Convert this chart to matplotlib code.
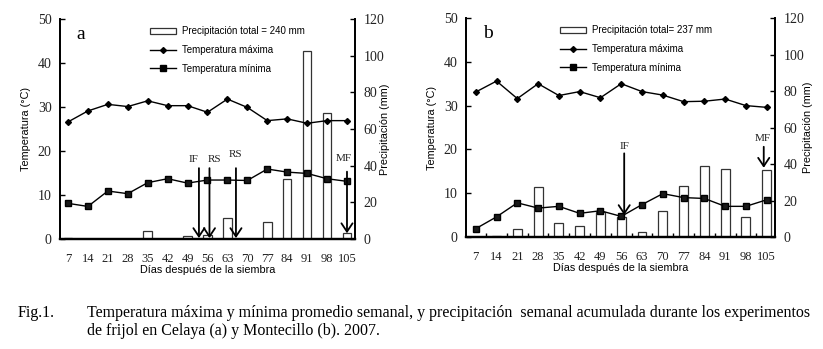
import numpy as np
import matplotlib
matplotlib.use("Agg")
import matplotlib.pyplot as plt
from matplotlib.lines import Line2D
from matplotlib.patches import Patch

# dias despues de la siembra
dias = [7, 14, 21, 28, 35, 42, 49, 56, 63, 70, 77, 84, 91, 98, 105]

# Celaya (a)
tmax_a = [26.6, 29.1, 30.6, 30.1, 31.4, 30.3, 30.3, 28.8, 31.8, 29.9, 26.9, 27.3, 26.3, 26.9, 26.9]
tmin_a = [8.1, 7.4, 10.9, 10.3, 12.8, 13.7, 12.7, 13.4, 13.4, 13.3, 15.9, 15.2, 14.9, 13.7, 13.1]
prec_a = [0.7, 0, 0, 0, 4.4, 0, 1.8, 2.0, 11.5, 0, 9.3, 32.6, 102.4, 68.7, 3.1]

# Montecillo (b)
tmax_b = [33.1, 35.6, 31.6, 35.0, 32.3, 33.2, 31.8, 35.0, 33.2, 32.4, 30.9, 31.0, 31.5, 30.0, 29.6]
tmin_b = [1.9, 4.6, 7.8, 6.6, 7.0, 5.4, 6.0, 4.7, 7.4, 9.9, 9.0, 8.8, 7.0, 7.0, 8.5]
prec_b = [0, 0.5, 4.4, 27.5, 7.7, 5.8, 13.7, 11.2, 2.6, 14.3, 28.2, 39.0, 37.5, 11.2, 36.6]

# etapas fenologicas: etiqueta, dia, posicion de la etiqueta, inicio y punta de la flecha
etapas_a = ["IF", "RS", "RS", "MF"]
dia_etapa_a = [53.0, 56.7, 66.0, 105.0]
lab_x_a = [51.0, 58.5, 66.0, 103.8]
lab_y_a = [18.0, 18.0, 19.3, 18.2]
top_a = [16.1, 16.1, 16.1, 15.3]
tip_a = [0.2, 0.2, 0.2, 1.3]

etapas_b = ["IF", "MF"]
dia_etapa_b = [57.0, 104.0]
lab_x_b = [57.0, 103.6]
lab_y_b = [20.6, 22.6]
top_b = [19.1, 20.6]
tip_b = [5.0, 15.8]

SERIF = "Liberation Serif"
SANS = "Liberation Sans"


def panel(fig, rect, letra, tmax, tmin, prec, total, etapas, dia_et, lab_x, lab_y, top, tip,
          xlo, xticks_menores, ylab_x, y2lab_x):
    ax = fig.add_axes(rect)
    ax2 = ax.twinx()
    ax.set_zorder(ax2.get_zorder() + 1)
    ax.patch.set_visible(False)

    x = np.arange(len(dias))
    ax2.bar(x, prec, width=0.43, color="white", edgecolor="#333333", linewidth=0.9)
    ax.plot(x, tmax, color="black", lw=1.0, marker="D", ms=3.0, mfc="black", mec="black")
    ax.plot(x, tmin, color="black", lw=1.0, marker="s", ms=5, mfc="#1a1a1a", mec="black")

    for et, d, lx, ly, t0, t1 in zip(etapas, dia_et, lab_x, lab_y, top, tip):
        xi = (d - dias[0]) / 7.0
        ax.annotate("", xy=(xi, t1), xytext=(xi, t0),
                    arrowprops=dict(arrowstyle="->, head_length=0.6, head_width=0.4",
                                    lw=1.3, color="black", mutation_scale=10,
                                    shrinkA=0, shrinkB=0))
        ax.text((lx - dias[0]) / 7.0, ly, et, fontsize=8, family=SERIF,
                ha="center", va="center", color="#222222")

    ax.set_xlim(xlo, 14.4)
    ax.set_ylim(0, 50)
    ax2.set_ylim(0, 120)
    ax.set_yticks(range(0, 51, 10))
    ax2.set_yticks(range(0, 121, 20))
    ax.set_xticks(x)
    ax.set_xticklabels([str(d) for d in dias], family=SERIF, fontsize=9)
    ax.tick_params(axis="x", length=0, pad=10, labelcolor="#222222")
    if xticks_menores:
        ax.set_xticks(x[:-1] + 0.5, minor=True)
        ax.tick_params(axis="x", which="minor", direction="in", length=3, width=1)
    for a in (ax, ax2):
        a.tick_params(axis="y", direction="in", length=3.5, width=1, labelsize=10, pad=6)
        for lab in a.get_yticklabels():
            lab.set_family(SERIF)
            lab.set_color("#222222")
        a.spines["top"].set_visible(False)
        for s in ("left", "right"):
            a.spines[s].set_linewidth(1.3)
        a.spines["bottom"].set_linewidth(1.6)
    ax2.tick_params(axis="x", which="both", length=0)

    ax.set_xlabel("Días después de la siembra", family=SANS, fontsize=7.8, labelpad=0)
    ax.set_ylabel("Temperatura (°C)", family=SANS, fontsize=7.8)
    ax.yaxis.set_label_coords(ylab_x, 0.5)
    ax2.set_ylabel("Precipitación (mm)", family=SANS, fontsize=7.8, rotation=90)
    ax2.yaxis.set_label_coords(y2lab_x, 0.5)

    ax.text(0.07, 0.93, letra, transform=ax.transAxes, family=SERIF, fontsize=14,
            ha="center", va="center")

    handles = [Patch(facecolor="white", edgecolor="#333333", linewidth=0.9),
               Line2D([], [], color="black", lw=1.0, marker="D", ms=3.0),
               Line2D([], [], color="black", lw=1.0, marker="s", ms=5)]
    labels = ["Precipitación total" + total, "Temperatura máxima", "Temperatura mínima"]
    ax.legend(handles, labels, loc="upper left", bbox_to_anchor=(0.29, 0.99),
              frameon=False, prop={"family": SANS, "size": 7}, handlelength=2.6,
              handleheight=0.55, labelspacing=0.9, handletextpad=0.6, borderpad=0,
              numpoints=1)
    return ax


fig = plt.figure(figsize=(8.23, 3.49), dpi=100)

panel(fig, [0.0729, 0.3152, 0.3584, 0.6304], "a", tmax_a, tmin_a, prec_a, " = 240 mm",
      etapas_a, dia_etapa_a, lab_x_a, lab_y_a, top_a, tip_a,
      -0.4, False, -0.10, 1.085)
panel(fig, [0.5662, 0.3209, 0.3755, 0.6275], "b", tmax_b, tmin_b, prec_b, "= 237 mm",
      etapas_b, dia_etapa_b, lab_x_b, lab_y_b, top_b, tip_b,
      -0.47, True, -0.095, 1.09)

fig.text(18 / 823, 1 - 313 / 349, "Fig.1.", family=SERIF, fontsize=11.5, va="center")
fig.text(87 / 823, 1 - 313 / 349,
         "Temperatura máxima y mínima promedio semanal, y precipitación  semanal acumulada "
         "durante los experimentos", family=SERIF, fontsize=11.5, va="center")
fig.text(87 / 823, 1 - 331 / 349, "de frijol en Celaya (a) y Montecillo (b). 2007.",
         family=SERIF, fontsize=11.5, va="center")

fig.savefig("out.png", dpi=100)
